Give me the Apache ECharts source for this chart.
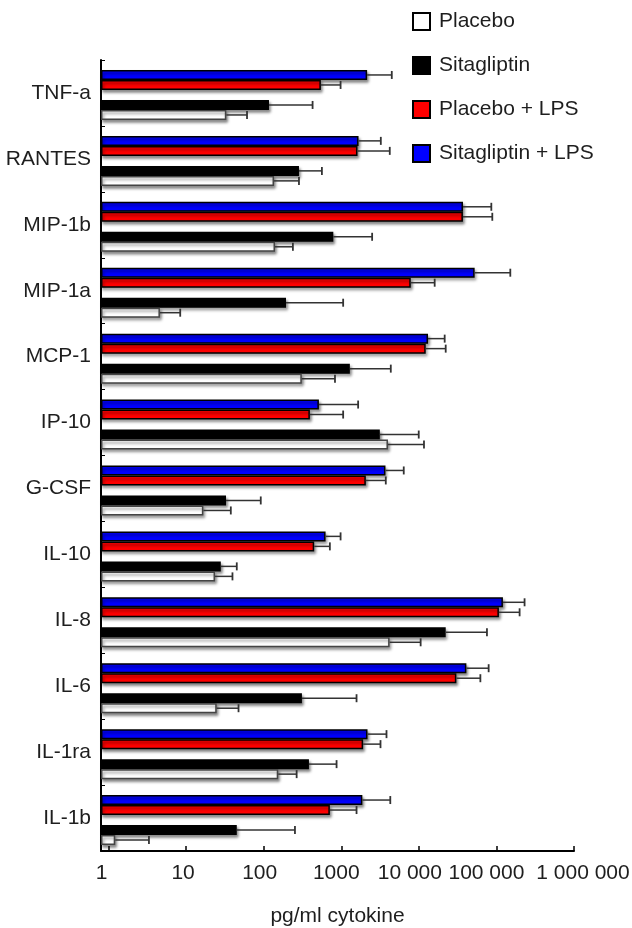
<!DOCTYPE html>
<html>
<head>
<meta charset="utf-8">
<script src="https://cdn.jsdelivr.net/npm/echarts@6/dist/echarts.min.js"></script>
<style>
html,body{margin:0;padding:0;background:#fff;}
#c{width:632px;height:928px;}
</style>
</head>
<body>
<div id="c"></div>
<script>
// ---- data (top to bottom) ----
const categories = ['TNF-a','RANTES','MIP-1b','MIP-1a','MCP-1','IP-10','G-CSF','IL-10','IL-8','IL-6','IL-1ra','IL-1b'];

const placebo         = [33, 136, 140, 4.6, 310, 4000, 16.7, 23.6, 4200, 24.8, 154, 1.22];
const placeboErr      = [28, 149, 98, 3.8, 520, 7650, 21, 16, 6350, 22.6, 112, 2.1];

const sitagliptin     = [117, 285, 790, 194, 1290, 3140, 32.7, 28, 22200, 311, 383, 45];
const sitagliptinErr  = [310, 278, 1710, 864, 3060, 6830, 59, 17, 53300, 1263, 487, 208];

const placeboLPS      = [546, 1620, 37000, 7870, 12270, 394, 2074, 448, 107700, 30470, 1914, 713];
const placeboLPSErr   = [434, 2600, 51500, 8130, 9930, 664, 1676, 265, 91300, 31630, 1291, 861];

const sitaLPS         = [2154, 1670, 37070, 52400, 13130, 515, 3716, 628, 121300, 41000, 2180, 1870];
const sitaLPSErr      = [2326, 1565, 48890, 98600, 8400, 1135, 2674, 352, 109300, 38400, 1650, 2415];

const tickLabels = ['1', '10', '100', '1000', '10 000', '100 000', '1 000 000'];
const legendNames = ['Placebo', 'Sitagliptin', 'Placebo + LPS', 'Sitagliptin + LPS'];
const axisTitle = 'pg/ml cytokine';

// ---- styling / layout ----
const FONT = '"Liberation Sans", Arial, Helvetica, sans-serif';
const TXT = '#1e1e1e';
const BAR_W = 10;
const labelShift = [-7, -3, -4, -5, -9, -10, 9];

const groups = [
  {name: 'Sitagliptin + LPS', vals: sitaLPS, err: sitaLPSErr, color: '#0000ff', border: '#000', offset: -18},
  {name: 'Placebo + LPS', vals: placeboLPS, err: placeboLPSErr, color: '#ff0000', border: '#000', offset: -8},
  {name: 'Sitagliptin', vals: sitagliptin, err: sitagliptinErr, color: '#000000', border: '#000', offset: 12},
  {name: 'Placebo', vals: placebo, err: placeboErr, color: '#ffffff', border: '#444', offset: 22}
];

function barSeries(g) {
  return {
    type: 'bar', name: g.name, barWidth: BAR_W, barGap: '0%',
    data: g.vals,
    itemStyle: {
      color: g.color, borderColor: g.border, borderWidth: 1.5,
      shadowColor: 'rgba(0,0,0,0.45)', shadowBlur: 3, shadowOffsetX: 1.5, shadowOffsetY: 2.5
    },
    silent: true, z: 2
  };
}
function gapSeries(name, w) {
  return {type: 'bar', name: name, barWidth: w, barGap: '0%', data: [], silent: true};
}
function errSeries(g) {
  const data = g.vals.map((v, i) => [v, v + g.err[i], i]);
  return {
    type: 'custom', name: g.name + ' err', data: data,
    encode: {x: [0, 1], y: 2}, z: 5, silent: true,
    renderItem: function (params, api) {
      const c = api.value(2);
      const p0 = api.coord([api.value(0), c]);
      const p1 = api.coord([api.value(1), c]);
      const yy = p0[1] + g.offset;
      return {
        type: 'group',
        children: [
          {type: 'line', shape: {x1: p0[0], y1: yy, x2: p1[0], y2: yy}, style: {stroke: '#333', lineWidth: 1.5}},
          {type: 'line', shape: {x1: p1[0], y1: yy - 4, x2: p1[0], y2: yy + 4}, style: {stroke: '#333', lineWidth: 1.8}}
        ]
      };
    }
  };
}

const rich = {};
labelShift.forEach((s, k) => {
  rich['l' + k] = {
    fontSize: 21, fontFamily: FONT, color: TXT,
    padding: s < 0 ? [0, -2 * s, 0, 0] : [0, 0, 0, 2 * s]
  };
});

const chart = echarts.init(document.getElementById('c'), null, {renderer: 'canvas'});
chart.setOption({
  animation: false,
  backgroundColor: '#fff',
  textStyle: {fontFamily: FONT},
  grid: {left: 101, right: 58, top: 60, bottom: 77, containLabel: false, outerBoundsMode: 'none'},
  legend: {
    data: legendNames,
    orient: 'vertical', left: 407, top: 6,
    itemWidth: 17, itemHeight: 17, itemGap: 23,
    icon: 'rect',
    textStyle: {fontSize: 21, color: TXT, fontFamily: FONT, padding: [0, 0, 6, 4]},
    itemStyle: {borderColor: '#000', borderWidth: 2},
    selectedMode: false
  },
  xAxis: {
    type: 'log', logBase: 10, min: 0.8, max: 1000000, startValue: 0.8,
    name: axisTitle, nameLocation: 'middle', nameGap: 55,
    nameTextStyle: {fontSize: 21, color: TXT, fontFamily: FONT},
    axisLine: {show: true, lineStyle: {color: '#000', width: 2}},
    axisTick: {show: true, inside: true, length: 5, lineStyle: {color: '#000', width: 1.5}},
    axisLabel: {
      margin: 12, fontSize: 21, color: TXT, fontFamily: FONT, hideOverlap: false,
      formatter: function (v) {
        const lg = Math.log10(v);
        const k = Math.round(lg);
        if (Math.abs(lg - k) > 1e-6 || k < 0 || k >= tickLabels.length) return '';
        return '{l' + k + '|' + tickLabels[k] + '}';
      },
      rich: rich
    },
    splitLine: {show: false},
    minorTick: {show: false}
  },
  yAxis: {
    type: 'category', data: categories, inverse: true,
    axisLine: {show: true, lineStyle: {color: '#000', width: 2}},
    axisTick: {show: true, inside: true, length: 4, lineStyle: {color: '#000', width: 1}},
    axisLabel: {margin: 10, fontSize: 21, color: TXT, fontFamily: FONT},
    splitLine: {show: false}
  },
  series: [
    gapSeries('_g0', 4),
    barSeries(groups[0]),
    barSeries(groups[1]),
    gapSeries('_g1', BAR_W),
    barSeries(groups[2]),
    barSeries(groups[3]),
    errSeries(groups[0]),
    errSeries(groups[1]),
    errSeries(groups[2]),
    errSeries(groups[3])
  ]
});
</script>
</body>
</html>
